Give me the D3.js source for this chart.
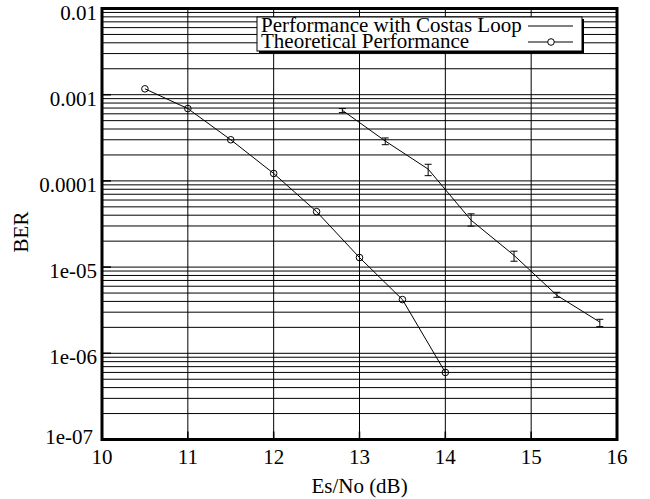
<!DOCTYPE html>
<html>
<head>
<meta charset="utf-8">
<script src="https://cdn.jsdelivr.net/npm/d3@7"></script>
<style>
  body { margin: 0; background: #fff; }
  svg text { font-family: "Liberation Serif", "Times New Roman", serif; fill: #000; }
</style>
</head>
<body>
<svg id="chart" width="650" height="499"></svg>
<script>
// theoretical curve (circles)
const esnoTheory = [10.5, 11, 11.5, 12, 12.5, 13, 13.5, 14];
const berTheory = [1.17e-3, 6.9e-4, 3.0e-4, 1.22e-4, 4.4e-5, 1.29e-5, 4.2e-6, 6.0e-7];

// measured with costas loop (error bars)
const esnoCostas = [12.8, 13.3, 13.8, 14.3, 14.8, 15.3, 15.8];
const berCostas = [6.6e-4, 2.9e-4, 1.37e-4, 3.5e-5, 1.37e-5, 4.7e-6, 2.3e-6];
const berLow = [6.2e-4, 2.63e-4, 1.15e-4, 2.99e-5, 1.17e-5, 4.46e-6, 2.04e-6];
const berHigh = [6.9e-4, 3.15e-4, 1.56e-4, 4.15e-5, 1.53e-5, 5.1e-6, 2.48e-6];

const xTicks = [10, 11, 12, 13, 14, 15, 16];
const yTicks = [1e-7, 1e-6, 1e-5, 1e-4, 1e-3, 1e-2];
const yTickLabels = ['1e-07', '1e-06', '1e-05', '0.0001', '0.001', '0.01'];
const legendLabels = ['Performance with Costas Loop', 'Theoretical Performance'];

const svg = d3.select('#chart');
const box = {left: 102, right: 617, top: 8.5, bottom: 439.5};
const fs = 21;

const x = d3.scaleLinear().domain([10, 16]).range([box.left, box.right]);
const y = d3.scaleLog().domain([1e-7, 1e-2]).range([box.bottom, box.top]);

// grid lines
const grid = svg.append('g').attr('stroke', '#000').attr('stroke-width', 1);
let minor = [];
for (let e = -7; e < -2; e++) {
  for (let k = 1; k <= 9; k++) minor.push(k * Math.pow(10, e));
}
grid.selectAll('line.h')
  .data(minor.filter(v => v > 1e-7))
  .enter().append('line')
    .attr('x1', box.left).attr('x2', box.right)
    .attr('y1', d => y(d)).attr('y2', d => y(d));
grid.selectAll('line.v')
  .data(xTicks.slice(1, -1))
  .enter().append('line')
    .attr('x1', d => x(d)).attr('x2', d => x(d))
    .attr('y1', box.top).attr('y2', box.bottom);

// inward ticks
const ticks = svg.append('g').attr('stroke', '#000').attr('stroke-width', 1.5);
ticks.selectAll('line.yt')
  .data(yTicks)
  .enter().append('line')
    .attr('x1', box.left).attr('x2', box.left + 9)
    .attr('y1', d => y(d)).attr('y2', d => y(d));
ticks.selectAll('line.xt')
  .data(xTicks)
  .enter().append('line')
    .attr('x1', d => x(d)).attr('x2', d => x(d))
    .attr('y1', box.bottom).attr('y2', box.bottom - 8);

// tick labels
svg.append('g').selectAll('text')
  .data(yTicks)
  .enter().append('text')
    .attr('x', (d, i) => i == 0 ? 93 : 97)
    .attr('y', (d, i) => y(d) + (i == 0 ? 4 : 11))
    .attr('text-anchor', 'end')
    .style('font-size', fs + 'px')
    .text((d, i) => yTickLabels[i]);

svg.append('g').selectAll('text')
  .data(xTicks)
  .enter().append('text')
    .attr('x', d => x(d))
    .attr('y', box.bottom + 24)
    .attr('text-anchor', 'middle')
    .style('font-size', fs + 'px')
    .text(d => d);

// axis titles
svg.append('text')
  .attr('transform', `translate(28, 232) rotate(-90)`)
  .attr('text-anchor', 'middle')
  .style('font-size', fs + 'px')
  .text('BER');
svg.append('text')
  .attr('x', (box.left + box.right) / 2)
  .attr('y', 493)
  .attr('text-anchor', 'middle')
  .style('font-size', fs + 'px')
  .text('Es/No (dB)');

// theoretical line with circles
const line = d3.line().x(d => x(d[0])).y(d => y(d[1]));
const theory = esnoTheory.map((v, i) => [v, berTheory[i]]);
svg.append('path')
  .attr('d', line(theory))
  .attr('fill', 'none').attr('stroke', '#000').attr('stroke-width', 1);
svg.append('g').selectAll('circle')
  .data(theory)
  .enter().append('circle')
    .attr('cx', d => x(d[0])).attr('cy', d => y(d[1]))
    .attr('r', 3.3)
    .attr('fill', 'none').attr('stroke', '#000').attr('stroke-width', 1);

// costas line with error bars
const costas = esnoCostas.map((v, i) => [v, berCostas[i], berLow[i], berHigh[i]]);
svg.append('path')
  .attr('d', line(costas))
  .attr('fill', 'none').attr('stroke', '#000').attr('stroke-width', 1);
const bars = svg.append('g').attr('stroke', '#000').attr('stroke-width', 1);
costas.forEach(d => {
  let cx = x(d[0]), lo = y(d[2]), hi = y(d[3]);
  bars.append('line').attr('x1', cx).attr('x2', cx).attr('y1', lo).attr('y2', hi);
  bars.append('line').attr('x1', cx - 3.5).attr('x2', cx + 3.5).attr('y1', lo).attr('y2', lo);
  bars.append('line').attr('x1', cx - 3.5).attr('x2', cx + 3.5).attr('y1', hi).attr('y2', hi);
});

// frame
svg.append('rect')
  .attr('x', box.left).attr('y', box.top)
  .attr('width', box.right - box.left).attr('height', box.bottom - box.top)
  .attr('fill', 'none').attr('stroke', '#000').attr('stroke-width', 3);

// legend
const lg = {x: 257, y: 17, w: 325, h: 34, row: 16};
const legend = svg.append('g');
legend.append('rect')
  .attr('x', lg.x + 2).attr('y', lg.y + 2).attr('width', lg.w).attr('height', lg.h)
  .attr('fill', '#000');
legend.append('rect')
  .attr('x', lg.x).attr('y', lg.y).attr('width', lg.w).attr('height', lg.h)
  .attr('fill', '#fff').attr('stroke', '#000').attr('stroke-width', 1);
legend.selectAll('text')
  .data(legendLabels)
  .enter().append('text')
    .attr('x', lg.x + 4)
    .attr('y', (d, i) => lg.y + 15 + i * lg.row)
    .style('font-size', fs + 'px')
    .text(d => d);
legendLabels.forEach((d, i) => {
  let ly = lg.y + 9 + i * lg.row;
  legend.append('line')
    .attr('x1', lg.x + 271).attr('x2', lg.x + 316)
    .attr('y1', ly).attr('y2', ly)
    .attr('stroke', '#000').attr('stroke-width', 1);
  if (i == 1) {
    legend.append('circle')
      .attr('cx', lg.x + 294).attr('cy', ly).attr('r', 3.3)
      .attr('fill', '#fff').attr('stroke', '#000').attr('stroke-width', 1);
  }
});
</script>
</body>
</html>
